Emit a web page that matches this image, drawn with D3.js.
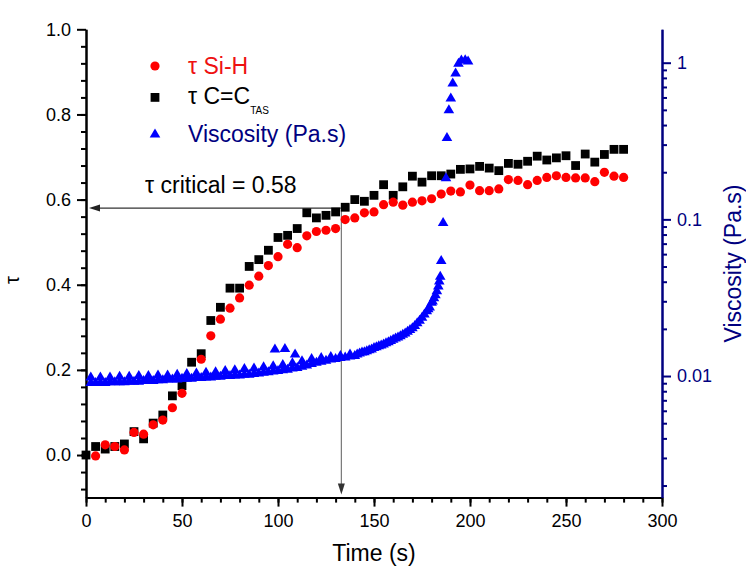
<!DOCTYPE html>
<html><head><meta charset="utf-8">
<script src="https://cdn.jsdelivr.net/npm/d3@7"></script>
<style>body{margin:0;background:#fff}svg{display:block}</style>
</head><body>
<svg id="chart" width="746" height="570"></svg>
<script>
// ---------- data ----------
const timeTau = [0,5,10,15,20,25,30,35,40,45,50,55,60,65,70,75,80,85,90,95,100,105,110,115,120,125,130,135,140,145,150,155,160,165,170,175,180,185,190,195,200,205,210,215,220,225,230,235,240,245,250,255,260,265,270,275,280];
const tauCC = [0.000,0.020,0.014,0.020,0.026,0.055,0.038,0.075,0.094,0.139,0.163,0.218,0.238,0.316,0.347,0.392,0.392,0.443,0.459,0.481,0.511,0.516,0.532,0.569,0.557,0.563,0.571,0.582,0.600,0.596,0.610,0.635,0.610,0.630,0.655,0.641,0.656,0.656,0.660,0.671,0.672,0.678,0.674,0.668,0.685,0.683,0.690,0.702,0.693,0.698,0.703,0.680,0.707,0.688,0.706,0.718,0.718];
const tauSiH = [null,-0.002,0.024,0.020,0.012,0.053,0.049,0.071,0.082,0.111,0.145,null,0.225,0.280,0.319,0.345,0.369,0.399,0.420,0.445,0.466,0.495,0.487,0.515,0.525,0.528,0.532,0.553,0.557,0.569,0.571,0.588,0.594,0.587,0.594,0.597,0.602,0.613,0.620,0.618,0.634,0.621,0.621,0.625,0.647,0.645,0.635,0.645,0.652,0.656,0.652,0.651,0.651,0.642,0.664,0.655,0.652];

// viscosity (Pa.s): upper row, lower row, outliers, then the gel rise
const viscTime = [
  2.5,7.5,12.5,17.5,22.5,27.5,32.5,37.5,42.5,47.5,52.5,57.5,62.5,67.5,72.5,77.5,82.5,87.5,92.5,97.5,102.5,107.5,112.5,117.5,122.5,127.5,132.5,137.5,
  2.5,5,7.5,10,12.5,15,17.5,20,22.5,25,27.5,30,32.5,35,37.5,40,42.5,45,47.5,50,52.5,55,57.5,60,62.5,65,67.5,70,72.5,75,77.5,80,82.5,85,87.5,90,92.5,95,97.5,100,102.5,105,107.5,110,112.5,115,117.5,120,122.5,125,127.5,130,132.5,135,137.5,140,
  98.4,103.6,108.9,
  141.25,142.5,143.75,145,146.25,147.5,148.75,150,151.25,152.5,153.75,155,156.25,157.5,158.75,160,161.25,162.5,163.75,165,166.25,167.5,168.75,170,171.25,172.5,173.75,175,176.25,177.5,178.25,179,180,180.5,181.25,182,182.75,183.5,184,184.5,185,186,187.5,188,189,190,191,192.5,194,195.5,197.5,199];
const viscValue = [
  0.0100,0.0100,0.0100,0.0101,0.0101,0.0102,0.0102,0.0103,0.0103,0.0104,0.0105,0.0106,0.0107,0.0108,0.0110,0.0111,0.0113,0.0114,0.0116,0.0118,0.0120,0.0123,0.0127,0.0131,0.0133,0.0135,0.0137,0.0140,
  0.0092,0.0092,0.0092,0.0092,0.0093,0.0093,0.0093,0.0093,0.0094,0.0094,0.0094,0.0095,0.0095,0.0095,0.0096,0.0096,0.0097,0.0097,0.0097,0.0098,0.0098,0.0098,0.0099,0.0099,0.0100,0.0100,0.0101,0.0101,0.0102,0.0102,0.0103,0.0103,0.0104,0.0104,0.0105,0.0106,0.0107,0.0108,0.0109,0.0110,0.0111,0.0112,0.0114,0.0115,0.0117,0.0119,0.0122,0.0124,0.0126,0.0128,0.0130,0.0131,0.0133,0.0134,0.0136,0.0137,
  0.0151,0.0152,0.0140,
  0.0140,0.0142,0.0144,0.0145,0.0147,0.0149,0.0151,0.0154,0.0156,0.0158,0.0160,0.0162,0.0165,0.0168,0.0171,0.0174,0.0177,0.0180,0.0183,0.0187,0.0191,0.0196,0.0201,0.0206,0.0213,0.0222,0.0230,0.0240,0.0252,0.0265,0.0272,0.0280,0.0300,0.0305,0.0320,0.0335,0.0355,0.0380,0.0410,0.0440,0.0554,0.0966,0.187,0.337,0.507,0.603,0.752,0.871,1.005,1.054,1.060,1.040];

const xTicks = [0,50,100,150,200,250,300];
const tauTicks = [0.0,0.2,0.4,0.6,0.8,1.0];
const viscTicks = [0.01,0.1,1];
const viscTickLabels = ["0.01","0.1","1"];
const tauCritical = 0.58;
const timeCritical = 133;
const legendLabels = ["\u03C4 Si-H","\u03C4 C=C","Viscosity (Pa.s)"];

// ---------- drawing ----------
const svg = d3.select("#chart");
const font = "Arial, 'Liberation Sans', sans-serif";
const navy = "#000080";

const x = d3.scaleLinear().domain([0,300]).range([86,662]);
const yL = d3.scaleLinear().domain([-0.1,1.0]).range([497.6,29.3]);
const yR = d3.scaleLog().domain([0.001675,1.634]).range([497.6,29.3]);

function styleAxis(g, color, fs){
  g.selectAll("path.domain").attr("stroke",color).attr("stroke-width",2);
  g.selectAll(".tick line").attr("stroke",color).attr("stroke-width",2);
  g.selectAll(".tick text").attr("fill",color).attr("font-size",fs).attr("font-family",font);
}

// bottom axis
const minorX = d3.range(0,301,10);
svg.append("g").attr("transform","translate(0,497.6)")
  .call(d3.axisBottom(x).tickValues(minorX).tickSize(5).tickSizeOuter(0).tickFormat(""))
  .call(g=>styleAxis(g,"#000",18));
svg.append("g").attr("transform","translate(0,497.6)")
  .call(d3.axisBottom(x).tickValues(xTicks).tickSize(9).tickSizeOuter(0).tickPadding(8).tickFormat(d3.format("d")))
  .call(g=>styleAxis(g,"#000",18));

// left axis
const minorL = d3.range(-0.08,1.0,0.04);
svg.append("g").attr("transform","translate(86,0)")
  .call(d3.axisLeft(yL).tickValues(minorL).tickSize(5).tickSizeOuter(0).tickFormat(""))
  .call(g=>styleAxis(g,"#000",18));
svg.append("g").attr("transform","translate(86,0)")
  .call(d3.axisLeft(yL).tickValues(tauTicks).tickSize(9).tickSizeOuter(0).tickPadding(6).tickFormat(d3.format(".1f")))
  .call(g=>styleAxis(g,"#000",18));

// right axis (log)
const minorR = [];
[0.001,0.01,0.1,1].forEach(b=>{for(let k=2;k<=9;k++){const v=b*k; if(v>=0.001675 && v<=1.634) minorR.push(v);}});
svg.append("g").attr("transform","translate(662,0)")
  .call(d3.axisRight(yR).tickValues(minorR).tickSize(5).tickSizeOuter(0).tickFormat(""))
  .call(g=>styleAxis(g,navy,18));
svg.append("g").attr("transform","translate(662,0)")
  .call(d3.axisRight(yR).tickValues(viscTicks).tickSize(9).tickSizeOuter(0).tickPadding(6).tickFormat((d,i)=>viscTickLabels[i]))
  .call(g=>styleAxis(g,navy,18));

// axis titles
svg.append("text").attr("x",374).attr("y",561).attr("text-anchor","middle")
  .attr("font-family",font).attr("font-size",23).attr("fill","#000").text("Time (s)");
svg.append("text").attr("transform","translate(19,280) rotate(-90)").attr("text-anchor","middle")
  .attr("font-family",font).attr("font-size",20).attr("fill","#000").text("\u03C4");
svg.append("text").attr("transform","translate(741,263.5) rotate(-90)").attr("text-anchor","middle")
  .attr("font-family",font).attr("font-size",23).attr("fill",navy).text("Viscosity (Pa.s)");

// critical annotation
const yc = yL(tauCritical), xc = x(timeCritical);
svg.append("line").attr("x1",xc).attr("y1",yc).attr("x2",x(0)+12).attr("y2",yc)
  .attr("stroke","#333").attr("stroke-width",1.2);
svg.append("path").attr("d",`M${x(0)+3},${yc} L${x(0)+14},${yc-3.5} L${x(0)+14},${yc+3.5} Z`).attr("fill","#222");
svg.append("line").attr("x1",xc).attr("y1",yc).attr("x2",xc).attr("y2",yL(-0.1)-12)
  .attr("stroke","#777").attr("stroke-width",1.2);
svg.append("path").attr("d",`M${xc},${yL(-0.1)-3} L${xc-3.5},${yL(-0.1)-14} L${xc+3.5},${yL(-0.1)-14} Z`).attr("fill","#333");
svg.append("text").attr("x",145).attr("y",193).attr("font-family",font).attr("font-size",23)
  .attr("fill","#000").text("\u03C4 critical = " + tauCritical.toFixed(2));

// series
const tri = "M0,-4.6 L5.3,4.4 L-5.3,4.4 Z";
svg.append("g").selectAll("rect").data(timeTau.map((t,i)=>({t,v:tauCC[i]})).filter(d=>d.v!==null))
  .join("rect").attr("x",d=>x(d.t)-4.4).attr("y",d=>yL(d.v)-4.4).attr("width",8.8).attr("height",8.8).attr("fill","#000");
svg.append("g").selectAll("circle").data(timeTau.map((t,i)=>({t,v:tauSiH[i]})).filter(d=>d.v!==null))
  .join("circle").attr("cx",d=>x(d.t)).attr("cy",d=>yL(d.v)).attr("r",4.6).attr("fill","#ff0000");
svg.append("g").selectAll("path").data(viscTime.map((t,i)=>({t,v:viscValue[i]})))
  .join("path").attr("d",tri).attr("transform",d=>`translate(${x(d.t)},${yR(d.v)})`).attr("fill","#0000ff");

// legend
const lg = svg.append("g");
lg.append("circle").attr("cx",155).attr("cy",66).attr("r",4.6).attr("fill","#ff0000");
lg.append("rect").attr("x",150.6).attr("y",93).attr("width",8.8).attr("height",8.8).attr("fill","#000");
lg.append("path").attr("d",tri).attr("transform","translate(155,133)").attr("fill","#0000ff");
lg.append("text").attr("x",188).attr("y",74).attr("font-family",font).attr("font-size",23).attr("fill","#ee1111").text(legendLabels[0]);
const t2 = lg.append("text").attr("x",188).attr("y",103.5).attr("font-family",font).attr("font-size",23).attr("fill","#000");
t2.append("tspan").text(legendLabels[1]);
t2.append("tspan").attr("font-size",10).attr("dy",10).text("TAS");
lg.append("text").attr("x",188).attr("y",141.5).attr("font-family",font).attr("font-size",23).attr("fill",navy).text(legendLabels[2]);
</script>
</body></html>
